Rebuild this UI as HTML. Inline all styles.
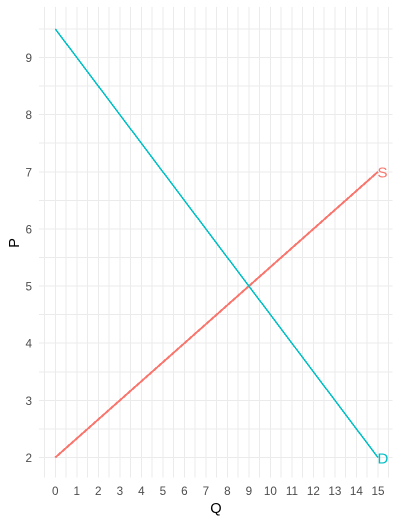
<!DOCTYPE html>
<html>
<head>
<meta charset="utf-8">
<title>Supply and demand chart</title>
<style>
html,body{margin:0;padding:0;background:#fff;width:401px;height:523px;overflow:hidden}
svg{display:block;font-family:"Liberation Sans",Arial,sans-serif}
</style>
</head>
<body>
<svg id="chart" width="401" height="523" viewBox="0 0 401 523" xmlns="http://www.w3.org/2000/svg"></svg>
<script>
const xTicks = [0, 1, 2, 3, 4, 5, 6, 7, 8, 9, 10, 11, 12, 13, 14, 15];
const yTicks = [2, 3, 4, 5, 6, 7, 8, 9];
const xMinorTicks = [-0.5, 0.5, 1.5, 2.5, 3.5, 4.5, 5.5, 6.5, 7.5, 8.5, 9.5, 10.5, 11.5, 12.5, 13.5, 14.5, 15.5];
const yMinorTicks = [2.5, 3.5, 4.5, 5.5, 6.5, 7.5, 8.5, 9.5];
const supplyQ = [0, 15];
const supplyP = [2, 7];
const demandQ = [0, 15];
const demandP = [9.5, 2];

const svg = document.getElementById('chart');
const NS = 'http://www.w3.org/2000/svg';
const panelLeft = 39, panelRight = 392.5, panelTop = 7, panelBottom = 477.5;
function sx(v) { return 55.3 + v * 21.51; }
function sy(v) { return 457.5 - (v - 2) * 57.14; }
function make(tag, attrs, parent) {
  const el = document.createElementNS(NS, tag);
  for (const k in attrs) el.setAttribute(k, attrs[k]);
  (parent || svg).appendChild(el);
  return el;
}
function gridV(v) {
  const el = make('line', {x1: sx(v), x2: sx(v), y1: panelTop, y2: panelBottom, stroke: '#ebebeb', 'stroke-width': 1, 'shape-rendering': 'crispEdges'});
  
  
}
function gridH(v) {
  const el = make('line', {x1: panelLeft, x2: panelRight, y1: sy(v), y2: sy(v), stroke: '#ebebeb', 'stroke-width': 1, 'shape-rendering': 'crispEdges'});
  
  
}
xMinorTicks.forEach(function (v) { gridV(v); });
yMinorTicks.forEach(function (v) { gridH(v); });
xTicks.forEach(function (v) { gridV(v); });
yTicks.forEach(function (v) { gridH(v); });

xTicks.forEach(function (v) {
  const t = make('text', {x: sx(v), y: 495.2, 'text-anchor': 'middle', 'font-size': 11.7, fill: '#4d4d4d'});
  t.textContent = v;
  
  
});
yTicks.forEach(function (v) {
  const t = make('text', {x: 32, y: sy(v) + 4.5, 'text-anchor': 'end', 'font-size': 11.7, fill: '#4d4d4d'});
  t.textContent = v;
  
  
});

function series(qs, ps, color, name, width) {
  const pts = qs.map(function (q, i) { return sx(q) + ',' + sy(ps[i]); }).join(' ');
  const el = make('polyline', {points: pts, fill: 'none', stroke: color, 'stroke-width': width, 'shape-rendering': 'crispEdges'});
  
  
}
series(supplyQ, supplyP, '#F8766D', 'supply-line', 2);
series(demandQ, demandP, '#00BFC4', 'demand-line', 1.5);

const lastS = supplyQ.length - 1;
const labelS = make('text', {x: sx(supplyQ[lastS]) - 0.5, y: sy(supplyP[lastS]) + 5.5, 'font-size': 15, fill: '#F8766D'});
labelS.textContent = 'S';



const lastD = demandQ.length - 1;
const labelD = make('text', {x: sx(demandQ[lastD]) - 0.5, y: sy(demandP[lastD]) + 6, 'font-size': 15, fill: '#00BFC4'});
labelD.textContent = 'D';



const xTitle = make('text', {x: 216, y: 513, 'text-anchor': 'middle', 'font-size': 14.67, fill: '#000'});
xTitle.textContent = 'Q';



const yTitle = make('text', {x: 0, y: 0, transform: 'translate(19,243) rotate(-90)', 'text-anchor': 'middle', 'font-size': 14.67, fill: '#000'});
yTitle.textContent = 'P';


</script>
</body>
</html>
